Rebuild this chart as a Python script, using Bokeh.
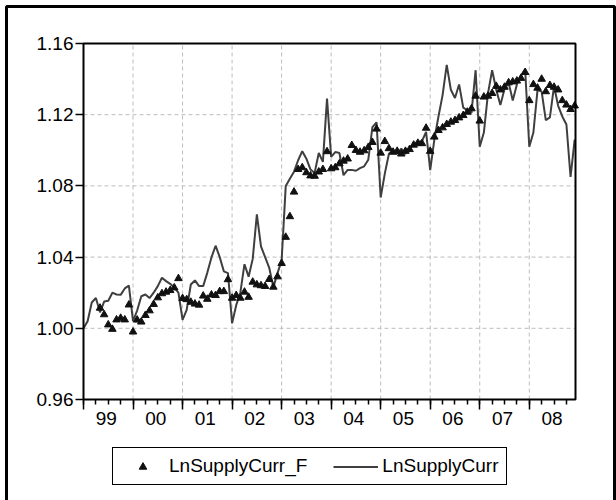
from bokeh.plotting import figure
from bokeh.models import (Range1d, LinearAxis, FixedTicker, Legend, LegendItem,
                          BoxAnnotation, PrintfTickFormatter)
from bokeh.embed import file_html
from bokeh.resources import INLINE

# Monthly observations, 1999M1 .. 2008M12
year_labels = ["99", "00", "01", "02", "03", "04", "05", "06", "07", "08"]

ln_supply_curr = [
    1.000, 1.004, 1.0145, 1.017, 1.009, 1.015, 1.0155, 1.020, 1.019, 1.0188, 1.0224, 1.024,      # 1999
    1.004, 1.010, 1.018, 1.019, 1.017, 1.020, 1.0237, 1.0284, 1.0265, 1.025, 1.0228, 1.020,      # 2000
    1.0047, 1.0104, 1.0246, 1.0269, 1.0237, 1.0237, 1.0313, 1.0398, 1.0464, 1.040, 1.032, 1.031, # 2001
    1.0028, 1.013, 1.020, 1.036, 1.029, 1.039, 1.064, 1.046, 1.040, 1.034, 1.023, 1.031,         # 2002
    1.038, 1.080, 1.084, 1.088, 1.0944, 1.0995, 1.0953, 1.0892, 1.0873, 1.0985, 1.0935, 1.129,   # 2003
    1.0963, 1.099, 1.0985, 1.086, 1.089, 1.089, 1.0885, 1.090, 1.091, 1.0947, 1.113, 1.1157,     # 2004
    1.0735, 1.0869, 1.0981, 1.100, 1.098, 1.101, 1.098, 1.101, 1.1034, 1.1047, 1.1052, 1.1103,   # 2005
    1.0888, 1.106, 1.119, 1.131, 1.148, 1.134, 1.1294, 1.137, 1.124, 1.1225, 1.121, 1.145,       # 2006
    1.102, 1.110, 1.132, 1.145, 1.134, 1.1255, 1.1345, 1.138, 1.128, 1.137, 1.142, 1.1455,       # 2007
    1.102, 1.110, 1.134, 1.133, 1.117, 1.1185, 1.136, 1.125, 1.119, 1.1145, 1.085, 1.106,        # 2008
]

# Fitted series starts with the fifth month (1999M5)
fcst_start = 4
ln_supply_curr_f = [
    1.0114, 1.0077, 1.002, 0.9995, 1.0048, 1.0057, 1.0048, 1.0132,                               # 1999
    0.998, 1.0047, 1.0036, 1.0073, 1.0099, 1.0135, 1.0172, 1.0195, 1.0204, 1.0213, 1.0228, 1.028, # 2000
    1.0168, 1.0162, 1.0147, 1.0137, 1.0131, 1.0182, 1.0164, 1.0188, 1.0185, 1.0207, 1.0207, 1.0274, # 2001
    1.017, 1.0185, 1.017, 1.0204, 1.0175, 1.026, 1.0245, 1.024, 1.0236, 1.0275, 1.0232, 1.029,   # 2002
    1.0365, 1.0512, 1.0628, 1.0766, 1.0893, 1.0903, 1.0875, 1.0857, 1.0855, 1.0879, 1.0893, 1.0993, # 2003
    1.0897, 1.0903, 1.0925, 1.094, 1.0952, 1.1028, 1.100, 1.099, 1.0998, 1.1017, 1.1045, 1.112,  # 2004
    1.0985, 1.105, 1.101, 1.099, 1.0995, 1.098, 1.0995, 1.1005, 1.103, 1.104, 1.1038, 1.1125,    # 2005
    1.0995, 1.1075, 1.1112, 1.1127, 1.1146, 1.1159, 1.1168, 1.1183, 1.1196, 1.1215, 1.1234, 1.1305, # 2006
    1.1165, 1.130, 1.1305, 1.132, 1.136, 1.134, 1.1355, 1.138, 1.1385, 1.139, 1.1405, 1.1438,    # 2007
    1.128, 1.137, 1.135, 1.140, 1.133, 1.1365, 1.1355, 1.134, 1.128, 1.1255, 1.123, 1.125,       # 2008
]

y_ticks = [0.96, 1.00, 1.04, 1.08, 1.12, 1.16]

FONT = "Liberation Sans"
W, H = 616, 500
# plot rectangle inside the page (pixels)
PL, PR, PT, PB = 83, 575, 43, 399

n = len(ln_supply_curr)
x_lo, x_hi = 0, n - 1 + 0.2
y_lo, y_hi = y_ticks[0], y_ticks[-1]
kx = (PR - PL) / (x_hi - x_lo)
ky = (PB - PT) / (y_hi - y_lo)

# the frame spans the whole page; axes are pinned to the plot rectangle
p = figure(width=W, height=H, output_backend="svg", toolbar_location=None,
           x_range=Range1d(x_lo - PL / kx, x_hi + (W - PR) / kx),
           y_range=Range1d(y_lo - (H - PB) / ky, y_hi + PT / ky),
           x_axis_type=None, y_axis_type=None, min_border=0)
p.background_fill_color = "white"
p.border_fill_color = "white"
p.outline_line_color = None
p.xgrid.visible = False
p.ygrid.visible = False

year_starts = [12 * i for i in range(len(year_labels))]
quarters = [3 * i for i in range(len(year_labels) * 4)]
mid_years = [12 * i + 5.5 for i in range(len(year_labels))]

# dashed grid: yearly verticals, horizontal lines at the inner value ticks
grid_style = dict(line_color="#bdbdbd", line_dash="4 3", line_width=1)
vx = year_starts[1:]
p.segment(x0=vx, x1=vx, y0=[y_lo] * len(vx), y1=[y_hi] * len(vx), **grid_style)
hy = y_ticks[1:-1]
p.segment(x0=[x_lo] * len(hy), x1=[x_hi] * len(hy), y0=hy, y1=hy, **grid_style)

# bottom axis: tick marks only (yearly long, quarterly short)
tick_axis = LinearAxis(ticker=FixedTicker(ticks=year_starts, minor_ticks=quarters),
                       fixed_location=y_lo,
                       major_label_overrides={t: "" for t in year_starts},
                       major_label_standoff=0,
                       major_tick_in=0, major_tick_out=10, minor_tick_in=0, minor_tick_out=5,
                       major_tick_line_color="black", minor_tick_line_color="black",
                       major_tick_line_width=1.5, minor_tick_line_width=1.5,
                       axis_line_color=None)
p.add_layout(tick_axis, "below")

# bottom axis: year labels centred in each year
label_axis = LinearAxis(ticker=FixedTicker(ticks=mid_years, minor_ticks=[]),
                        fixed_location=y_lo,
                        major_label_overrides={m: lbl for m, lbl in zip(mid_years, year_labels)},
                        major_tick_in=0, major_tick_out=0, minor_tick_in=0, minor_tick_out=0,
                        major_tick_line_color=None, minor_tick_line_color=None,
                        axis_line_color=None, major_label_standoff=12,
                        major_label_text_font=FONT, major_label_text_font_size="19px",
                        major_label_text_color="black")
p.add_layout(label_axis, "below")

# left value axis
y_axis = LinearAxis(ticker=FixedTicker(ticks=y_ticks, minor_ticks=[]),
                    fixed_location=x_lo,
                    formatter=PrintfTickFormatter(format="%.2f"),
                    major_tick_in=0, major_tick_out=8, minor_tick_in=0, minor_tick_out=0,
                    major_tick_line_color="black", major_tick_line_width=1.5,
                    axis_line_color=None, major_label_standoff=2,
                    major_label_text_font=FONT, major_label_text_font_size="19px",
                    major_label_text_color="black")
p.add_layout(y_axis, "left")

# plot rectangle border
p.add_layout(BoxAnnotation(left=x_lo, right=x_hi, bottom=y_lo, top=y_hi,
                           fill_alpha=0, line_color="black", line_alpha=1, line_width=2))

x_all = list(range(n))
x_fcst = list(range(fcst_start, n))
line_r = p.line(x_all, ln_supply_curr, line_color="#3f3f3f", line_width=2)
tri_r = p.scatter(x_fcst, ln_supply_curr_f, marker="triangle", size=7.5,
                  fill_color="#111111", line_color="#111111")

legend = Legend(items=[LegendItem(label="LnSupplyCurr_F", renderers=[tri_r]),
                       LegendItem(label="LnSupplyCurr", renderers=[line_r])],
                orientation="horizontal", location=(112, H - 485), margin=0,
                padding=7, spacing=26, glyph_width=45, glyph_height=19,
                label_height=19, label_standoff=4,
                label_text_font=FONT, label_text_font_size="19px", label_text_color="black",
                border_line_color="black", border_line_alpha=1, border_line_width=1,
                background_fill_color="white", background_fill_alpha=1)
p.add_layout(legend)

# outer frame around the whole chart
p.add_layout(BoxAnnotation(left=6, right=614, top=6, bottom=560,
                           left_units="canvas", right_units="canvas",
                           top_units="canvas", bottom_units="canvas",
                           fill_alpha=0, line_color="black", line_alpha=1, line_width=3))

open("out.html", "w").write(file_html(p, INLINE))
